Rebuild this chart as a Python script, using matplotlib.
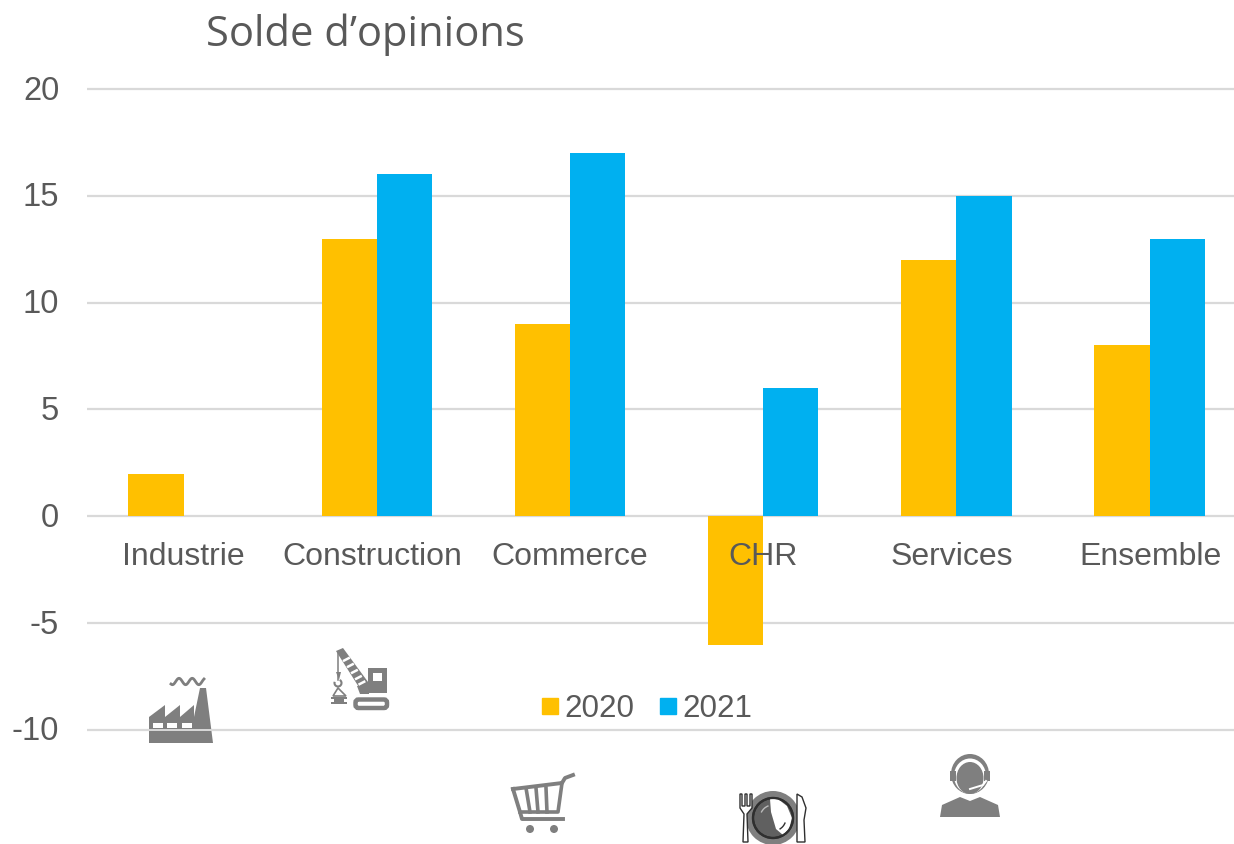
import numpy as np
import matplotlib
matplotlib.use("Agg")
import matplotlib.pyplot as plt
from matplotlib.patches import Polygon, Circle, Rectangle, Ellipse, FancyBboxPatch, Arc
from matplotlib.transforms import ScaledTranslation

categories = ["Industrie", "Construction", "Commerce", "CHR", "Services", "Ensemble"]
values_2020 = [2, 13, 9, -6, 12, 8]
values_2021 = [0, 16, 17, 6, 15, 13]
y_ticks = [-10, -5, 0, 5, 10, 15, 20]

W, H = 1234, 844
plt.rcParams["font.family"] = ["Liberation Sans", "DejaVu Sans"]
fig = plt.figure(figsize=(W / 100, H / 100), dpi=100)
L, R = 87, 1234
Y20, Ym10 = 89, 730
unit = (Ym10 - Y20) / 30
ymax = 20 + Y20 / unit
ymin = -10 - (H - Ym10) / unit
ax = fig.add_axes([L / W, 0, (R - L) / W, 1])
step = 193.2
ax.set_xlim(-0.5, -0.5 + (R - L) / step)
ax.set_ylim(ymin, ymax)
for s in ax.spines.values():
    s.set_visible(False)
ax.set_xticks([])
ax.set_yticks(y_ticks)
ax.set_yticklabels([str(t) for t in y_ticks], fontsize=23.5, color="#595959")
ax.tick_params(axis="y", length=0, pad=20)
shift = ScaledTranslation(0, 1.5 / 100, fig.dpi_scale_trans)
for lab in ax.get_yticklabels():
    lab.set_ha("right")
    lab.set_transform(lab.get_transform() + shift)
ax.grid(axis="y", color="#D9D9D9", lw=1.6)
ax.set_axisbelow(True)

bw = 55.3 / step
x = list(range(len(categories)))
ax.bar([i - bw / 2 for i in x], values_2020, bw, color="#FFC000", label="2020", zorder=2)
ax.bar([i + bw / 2 for i in x], values_2021, bw, color="#00B0F0", label="2021", zorder=2)

for i, c in enumerate(categories):
    cx = [183, 372, 570, 763, 952, 1150][i]
    fig.text(cx / W, 1 - 557 / H, c, fontsize=23, color="#595959", ha="center", va="center", zorder=5)

fig.text(206 / W, 1 - 35 / H, "Solde d’opinions", fontsize=30, color="#595959", va="center",
         family=["Open Sans", "DejaVu Sans"])

# legend
for x0, col, lab in [(542, "#FFC000", "2020"), (660, "#00B0F0", "2021")]:
    fig.patches.append(Rectangle((x0 / W, 1 - 714 / H), 16 / W, 16 / H, transform=fig.transFigure, color=col, zorder=5))
    fig.text((x0 + 22.5) / W, 1 - 709 / H, lab, fontsize=22.6, color="#595959", va="center", zorder=5)

# pixel overlay for pictograms
ov = fig.add_axes([0, 0, 1, 1], zorder=6)
ov.set_xlim(0, W); ov.set_ylim(H, 0); ov.axis("off")
G = "#7F7F7F"
# factory
ov.add_patch(Polygon([(149, 743), (149, 717), (165, 705), (165, 717), (180, 705), (180, 717), (194, 705), (194, 717),
                      (200, 688), (206, 688), (213, 743)], color=G, lw=0))
for xx in (153, 167, 182):
    ov.add_patch(Rectangle((xx, 723), 10, 5, color="white", lw=0))
ov.plot([149, 213], [730, 730], color="#D9D9D9", lw=1.4)
wx = np.linspace(171, 204, 60)
ov.plot(wx, 681.5 + 3.2 * np.sin((wx - 171) / 33 * 2 * np.pi * 2.5 + 0.9), color=G, lw=2)
# crane
ov.add_patch(Polygon([(336, 651), (343, 648), (371, 686), (362, 692)], color=G, lw=0))
for t in (0.22, 0.38, 0.54, 0.70, 0.84):
    cx, cy = 341 + 25 * t, 651 + 38 * t
    ov.plot([cx - 2.4, cx + 2.2], [cy + 1.2, cy - 1.2], color="white", lw=1.8)
ov.plot([338, 338], [653, 680], color=G, lw=1.1)
ov.add_patch(Polygon([(336, 672), (341, 672), (339, 680)], color=G, lw=0))
ov.add_patch(Arc((338, 683), 7, 7, theta1=-60, theta2=200, color=G, lw=1.5))
ov.add_patch(Polygon([(333, 696), (338, 688), (346, 696)], fc="none", ec=G, lw=1.2))
ov.add_patch(Polygon([(331, 697), (347, 697), (347, 699), (344, 699), (344, 702), (347, 702), (347, 704), (331, 704),
                      (331, 702), (334, 702), (334, 699), (331, 699)], color=G, lw=0))
ov.add_patch(Rectangle((368, 668), 19, 25, color=G, lw=0))
ov.add_patch(Polygon([(357, 686), (369, 684), (369, 694), (360, 694)], color=G, lw=0))
ov.add_patch(Rectangle((373, 673), 9, 8, color="white", lw=0))
ov.add_patch(FancyBboxPatch((355.5, 699.5), 31.5, 8.5, boxstyle="round,pad=0,rounding_size=3", fc="white", ec=G, lw=3.2))
# cart
ov.plot([513, 562, 565, 573], [789, 783, 778, 775], color=G, lw=2.8, solid_joinstyle="round")
ov.plot([513, 520, 522, 563], [789, 812, 819, 819], color=G, lw=2.8, solid_joinstyle="round")
ov.plot([562, 558, 520], [783, 812, 812], color=G, lw=2.6, solid_joinstyle="round")
for xt, xb in [(526, 530), (536, 538), (546, 547)]:
    ov.plot([xt, xb], [788, 812], color=G, lw=2.6)
ov.add_patch(Circle((530, 829), 4, color=G, lw=0)); ov.add_patch(Circle((554, 829), 4, color=G, lw=0))
# plate
D = "#2F2F2F"
ov.add_patch(Circle((773, 818), 27, color=G, lw=0))
ov.add_patch(Circle((773, 818), 20, fc="#606060", ec=D, lw=1.6))
ov.add_patch(Polygon([(770, 799), (778, 799), (787, 806), (792, 818), (789, 829), (783, 835), (776, 829), (771, 812)], color="white", lw=0))
ov.add_patch(Circle((773, 818), 20, fc="none", ec=D, lw=1.6))
ov.add_patch(Arc((773, 818), 26, 26, theta1=20, theta2=60, color=D, lw=1))
ov.add_patch(Arc((773, 818), 26, 26, theta1=205, theta2=250, color="#BBBBBB", lw=1))
ov.add_patch(Polygon([(740, 794), (740, 808), (744, 814), (743, 842), (748, 842), (747, 814), (752, 808), (752, 794),
                      (750, 794), (750, 806), (747, 806), (747, 794), (745, 794), (745, 806), (742, 806), (742, 794)],
                     fc="white", ec=D, lw=1))
ov.add_patch(Polygon([(797, 794), (797, 842), (805, 842), (804, 820), (806, 808), (802, 797)], fc="white", ec=D, lw=1))
# headset person
ov.add_patch(Polygon([(940, 817), (942, 805), (960, 797), (970, 801), (980, 797), (998, 805), (1000, 817)], color=G, lw=0))
ov.add_patch(Ellipse((970, 774), 38, 40, color=G, lw=0))
ov.add_patch(Ellipse((970, 776), 32, 35, color="white", lw=0))
ov.add_patch(Ellipse((970, 778), 27, 32, color=G, lw=0))
ov.add_patch(Rectangle((950, 771), 6, 10, color=G, lw=0)); ov.add_patch(Rectangle((984, 771), 6, 10, color=G, lw=0))
ov.plot([986, 983, 970], [781, 785, 789], color="white", lw=1.4)

fig.savefig("out.png", dpi=100, facecolor="white")
